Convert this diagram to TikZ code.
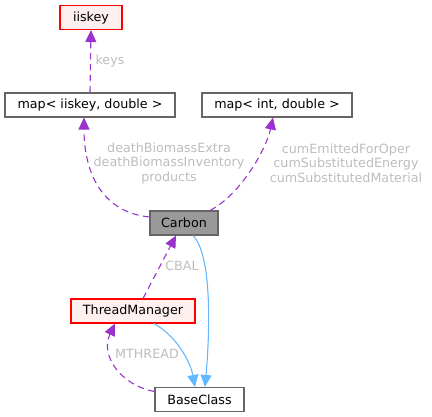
\documentclass[tikz,border=0pt]{standalone}
\usepackage{fontspec}
\setmainfont{DejaVu Sans}
\usepackage{xcolor}
\usepackage{tikz}
\usetikzlibrary{arrows.meta,positioning}
\definecolor{doxgray}{HTML}{666666}
\definecolor{doxfill}{HTML}{999999}
\definecolor{doxred}{HTML}{FF0000}
\definecolor{doxpink}{HTML}{FFF0F0}
\definecolor{doxpurple}{HTML}{9A32CD}
\definecolor{doxblue}{HTML}{63B8FF}
\definecolor{doxlabel}{HTML}{BDBDBD}
\tikzset{
  classnode/.style={draw=doxgray, fill=white, line width=1.1pt, align=center, font=\fontsize{12.7}{15}\selectfont, inner sep=0pt, minimum height=24pt},
  missnode/.style={classnode, draw=doxred, fill=doxpink},
  mainnode/.style={classnode, fill=doxfill},
  useedge/.style={-{Triangle[length=12pt,width=11pt]}, dash pattern=on 6.5pt off 4.5pt, line width=1.1pt, draw=doxpurple},
  baseedge/.style={-{Triangle[length=12pt,width=11pt]}, line width=1.1pt, draw=doxblue},
  edgelabel/.style={align=center, font=\fontsize{12.7}{14.5}\selectfont, text=doxlabel, inner sep=0pt}
}
\begin{document}
\begin{tikzpicture}[x=1pt, y=-1pt]
  \useasboundingbox (0,0) rectangle (432,417);
  \node[missnode, minimum width=62pt] (iiskey) at (91,17.5) {iiskey};
  \node[classnode, minimum width=170pt] (mapkey) at (90,105) {map< iiskey, double >};
  \node[classnode, minimum width=150pt] (mapint) at (277,105) {map< int, double >};
  \node[mainnode, minimum width=68pt] (carbon) at (184,223) {Carbon};
  \node[missnode, minimum width=124pt] (thread) at (133,311) {ThreadManager};
  \node[classnode, minimum width=89pt] (base) at (199.5,399.5) {BaseClass};
  % member links
  \draw[useedge] (mapkey.north) -- (iiskey.south);
  \node[edgelabel] (lkeys) at (110,61) {keys};
  \draw[useedge] ([yshift=6pt]carbon.west) .. controls (100,212) and (84,170) .. ([xshift=-6pt]mapkey.south);
  \node[edgelabel] (lmapkey) at (169,163) {deathBiomassExtra\\deathBiomassInventory\\products};
  \draw[useedge] ([xshift=26pt]carbon.north) .. controls (240,195) and (266,150) .. ([xshift=-4pt]mapint.south);
  \node[edgelabel] (lmapint) at (346,163) {cumEmittedForOper\\cumSubstitutedEnergy\\cumSubstitutedMaterial};
  \draw[useedge] ([xshift=10pt]thread.north) -- ([xshift=-8pt]carbon.south);
  \node[edgelabel] (lcbal) at (182,266) {CBAL};
  \draw[useedge] ([yshift=8pt]base.west) .. controls (120,385) and (100,355) .. ([xshift=-18pt]thread.south);
  \node[edgelabel] (lmthread) at (147,354) {MTHREAD};
  % inheritance
  \draw[baseedge] ([xshift=9pt]carbon.south) .. controls (212,255) and (210,330) .. ([xshift=5.5pt]base.north);
  \draw[baseedge] ([xshift=21pt]thread.south) .. controls (175,335) and (190,360) .. ([xshift=-4.5pt]base.north);
\end{tikzpicture}
\end{document}
